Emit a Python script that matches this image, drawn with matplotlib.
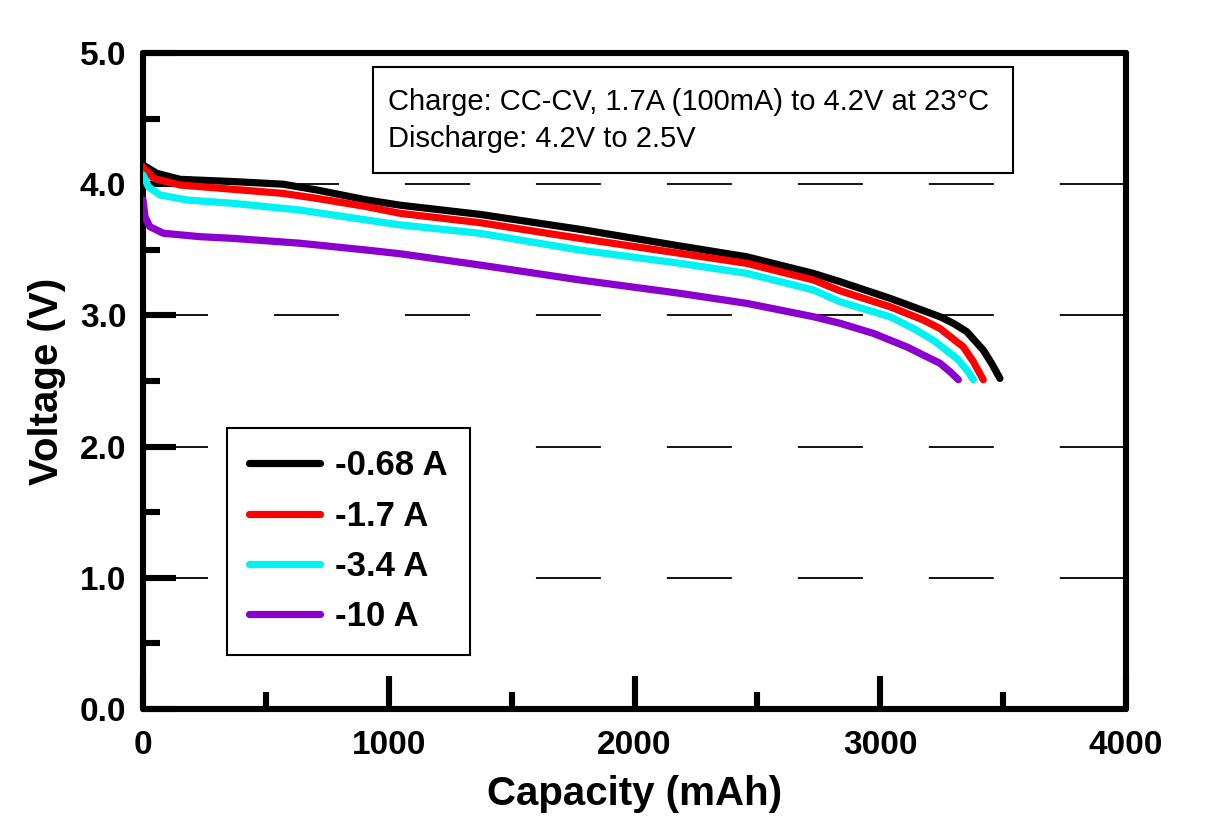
import numpy as np
import matplotlib
matplotlib.use("Agg")
import matplotlib.pyplot as plt
from matplotlib.patches import Rectangle
from matplotlib.ticker import MultipleLocator

plt.rcParams["font.family"] = ["Liberation Sans", "DejaVu Sans"]
plt.rcParams["lines.scale_dashes"] = False

# discharge curves: capacity (mAh), voltage (V)
cap_068 = [0, 56, 151, 367, 570, 707, 910, 1046, 1371, 1778, 2185, 2456, 2728,
           2836, 3040, 3243, 3297, 3352, 3419, 3453, 3487]
volt_068 = [4.146, 4.083, 4.037, 4.02, 4.0, 3.956, 3.88, 3.84, 3.77, 3.656, 3.529,
            3.447, 3.32, 3.257, 3.13, 2.99, 2.94, 2.876, 2.736, 2.635, 2.52]

cap_17 = [0, 42, 151, 367, 570, 707, 910, 1046, 1371, 1778, 2185, 2456, 2728,
          2836, 3040, 3175, 3243, 3338, 3379, 3419]
volt_17 = [4.133, 4.045, 3.994, 3.961, 3.93, 3.892, 3.829, 3.778, 3.707, 3.587,
           3.473, 3.397, 3.27, 3.188, 3.066, 2.965, 2.90, 2.76, 2.647, 2.51]

cap_34 = [0, 22, 69, 178, 367, 639, 910, 1046, 1371, 1778, 2185, 2456, 2728,
          2836, 3040, 3135, 3216, 3311, 3352, 3379]
volt_34 = [4.07, 3.98, 3.918, 3.88, 3.854, 3.803, 3.727, 3.69, 3.626, 3.498,
           3.397, 3.321, 3.194, 3.104, 2.99, 2.90, 2.81, 2.673, 2.584, 2.51]

cap_10 = [0, 8, 28, 83, 232, 367, 639, 910, 1046, 1371, 1778, 2185, 2456, 2728,
          2836, 2972, 3108, 3243, 3284, 3318]
volt_10 = [3.88, 3.752, 3.676, 3.626, 3.60, 3.587, 3.55, 3.498, 3.47, 3.384,
           3.27, 3.168, 3.092, 2.99, 2.94, 2.863, 2.76, 2.635, 2.571, 2.51]

labels = ["-0.68 A", "-1.7 A", "-3.4 A", "-10 A"]
colors = ["#000000", "#ff0000", "#00f2f2", "#8a00cc"]
grid_levels = [1.0, 2.0, 3.0, 4.0]

fig = plt.figure(figsize=(12.2, 8.35), dpi=100)
ax = fig.add_axes([143 / 1220, 1 - 709 / 835, 983 / 1220, 656 / 835])

ax.hlines(grid_levels, 0, 4000, colors="k", linewidth=1.3,
          linestyles=[(0, (46.8, 47.5))], zorder=1)

series = [(cap_068, volt_068), (cap_17, volt_17), (cap_34, volt_34), (cap_10, volt_10)]
for (c, v), lab, col in zip(series, labels, colors):
    ax.plot(c, v, color=col, linewidth=5.2, label=lab,
            solid_capstyle="round", solid_joinstyle="round", zorder=3)

ax.set_xlim(0, 4000)
ax.set_ylim(0, 5)
ax.xaxis.set_major_locator(MultipleLocator(1000))
ax.xaxis.set_minor_locator(MultipleLocator(500))
ax.yaxis.set_major_locator(MultipleLocator(1))
ax.yaxis.set_minor_locator(MultipleLocator(0.5))
ax.yaxis.set_major_formatter(plt.FormatStrFormatter("%.1f"))

for sp in ax.spines.values():
    sp.set_linewidth(4.4)
    sp.set_capstyle("round")
ax.tick_params(which="both", direction="in", width=4.4, top=False, right=False)
ax.tick_params(which="major", length=24)
ax.tick_params(which="minor", length=12.5)
ax.tick_params(axis="x", which="major", pad=15, labelsize=24)
ax.tick_params(axis="y", which="major", pad=12, labelsize=24)
for t in ax.get_xticklabels() + ax.get_yticklabels():
    t.set_fontweight("bold")

ax.set_xlabel("Capacity (mAh)", fontsize=29, fontweight="bold", labelpad=10)
ax.set_ylabel("Voltage (V)", fontsize=29, fontweight="bold", labelpad=10)

leg = ax.legend(loc="lower left", bbox_to_anchor=(0.0855, 0.0823),
                borderaxespad=0, fancybox=False, framealpha=1,
                edgecolor="k", prop={"weight": "bold", "size": 25},
                handlelength=2.05, handletextpad=0.45, labelspacing=0.5,
                borderpad=0.62)
leg.get_frame().set_linewidth(1.5)
for h in leg.get_lines():
    h.set_linewidth(5.2)
    h.set_solid_capstyle("round")

ax.add_patch(Rectangle((0.234, 0.817), 0.651, 0.1616, transform=ax.transAxes,
                       fill=False, edgecolor="k", linewidth=1.5, zorder=4))
ax.text(0.249, 0.947,
        "Charge: CC-CV, 1.7A (100mA) to 4.2V at 23\u00b0C\nDischarge: 4.2V to 2.5V",
        transform=ax.transAxes, ha="left", va="top", fontsize=21,
        linespacing=1.4, zorder=5)

fig.savefig("out.png", dpi=100)
plt.close(fig)
